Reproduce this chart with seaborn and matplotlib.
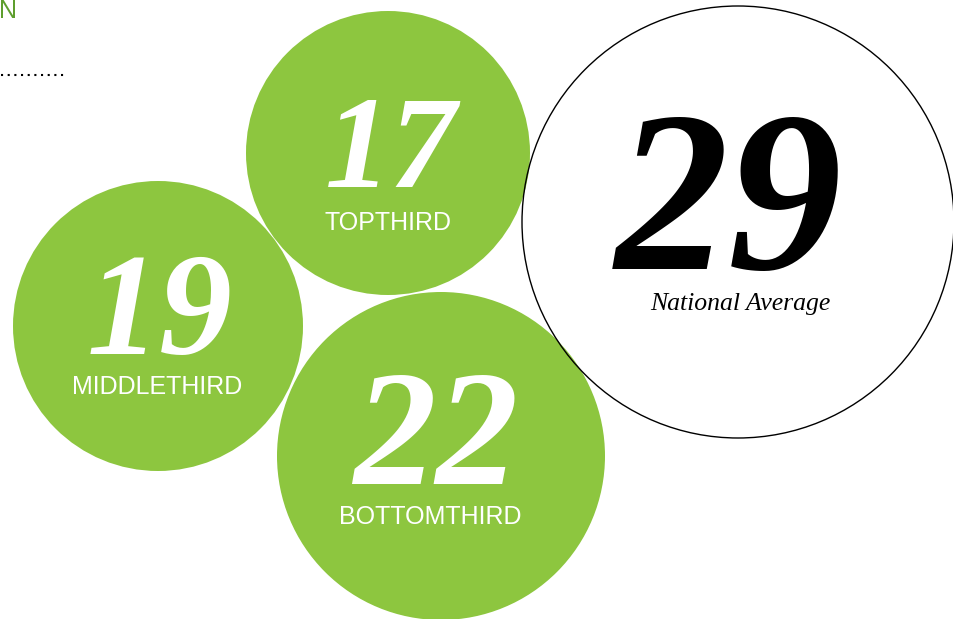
import matplotlib.pyplot as plt
from matplotlib.patches import Circle
import seaborn as sns

# values shown in the bubbles
labels = ['TOPTHIRD', 'MIDDLETHIRD', 'BOTTOMTHIRD', 'National Average']
values = [17, 19, 22, 29]

# layout (pixel space): centre x, centre y, radius
centres = [(388, 153), (158, 326), (441, 456), (738, 222)]
radii = [142, 145, 164, 216]
num_size = [95, 105, 119, 164]
num_pos = [(391, 187), (160, 354), (436, 484), (729, 269)]
lab_pos = [(388, 230), (157, 394), (430, 524), (740, 310)]

green = '#8dc63f'

sns.set_theme(style='white')
fig = plt.figure(figsize=(9.54, 6.19), dpi=100)
ax = fig.add_axes([0, 0, 1, 1])
ax.set_xlim(0, 954)
ax.set_ylim(619, 0)
ax.set_aspect('equal')
ax.axis('off')

for i, (lab, v) in enumerate(zip(labels, values)):
    natl = lab == 'National Average'
    if natl:
        c = Circle(centres[i], radii[i], facecolor='none', edgecolor='black', lw=1.0, zorder=3)
    else:
        c = Circle(centres[i], radii[i], facecolor=green, edgecolor='none', zorder=2)
    ax.add_patch(c)
    col = 'black' if natl else 'white'
    ax.text(num_pos[i][0], num_pos[i][1], str(v), ha='center', va='baseline',
            fontsize=num_size[i], fontweight='bold', fontstyle='italic',
            family='Liberation Serif', color=col, zorder=4)
    if natl:
        ax.text(lab_pos[i][0], lab_pos[i][1], lab, ha='center', va='baseline',
                fontsize=18.5, fontstyle='italic', family='Liberation Serif',
                color='black', zorder=4)
    else:
        ax.text(lab_pos[i][0], lab_pos[i][1], lab, ha='center', va='baseline',
                fontsize=18, family='Liberation Sans', color='white', zorder=4)

# cut-off heading and dotted rule at the top left
ax.text(-1, 18, 'N', ha='left', va='baseline', fontsize=18, family='Liberation Sans',
        color='#5e9e2e')
ax.plot([1, 64], [75, 75], color='black', lw=1.5, ls=(0, (1, 2.2)))

fig.savefig('out.png', dpi=100)
